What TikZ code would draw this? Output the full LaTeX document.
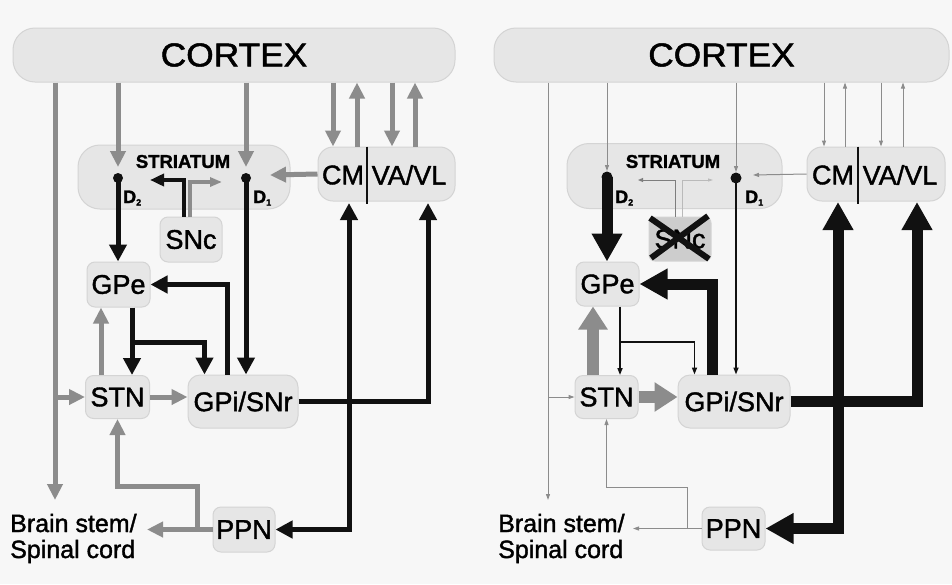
\documentclass[tikz,border=0pt]{standalone}
\usepackage{fontspec}
\setmainfont{Liberation Sans}[FakeBold=1.5]
\usetikzlibrary{arrows.meta,calc}
\definecolor{bg}{HTML}{F7F7F7}
\definecolor{boxfill}{HTML}{E6E6E6}
\definecolor{boxline}{HTML}{D4D4D4}
\definecolor{sncx}{HTML}{CDCDCD}
\definecolor{gar}{HTML}{8C8C8C}
\definecolor{blk}{HTML}{111111}
\newcommand\ctxfont{\addfontfeature{FakeStretch=1.07}\fontsize{33}{33}\selectfont}
\newcommand\labfont{\fontsize{27}{27}\selectfont}
\newcommand\strfont{\bfseries\fontsize{18.5}{18.5}\selectfont}
\newcommand\dfont{\bfseries\fontsize{18}{18}\selectfont}
\newcommand\bsfont{\fontsize{25}{25}\selectfont}
\newcommand\dsub[1]{\raisebox{-2.5pt}{\fontsize{9}{9}\selectfont #1}}
\begin{document}
\begin{tikzpicture}[x=1pt,y=-1pt,
  box/.style={draw=boxline, fill=boxfill, rounded corners=#1, line width=1pt, inner sep=0pt, font=\labfont},
  gA/.style={draw=gar, line width=5pt, -{Triangle[length=16pt,width=15pt]}},
  bA/.style={draw=blk, line width=5pt, -{Triangle[length=17pt,width=17pt]}},
  gAs/.style={draw=gar, line width=3.5pt, -{Triangle[length=12pt,width=9pt]}},
  bAs/.style={draw=blk, line width=4pt, -{Triangle[length=14pt,width=12pt]}},
  tg/.style={draw=gar, line width=1pt, -{Triangle[length=6pt,width=4pt]}},
  tgl/.style={draw=gar!60, line width=0.8pt, -{Triangle[length=5pt,width=3pt]}},
  tb/.style={draw=blk, line width=1.5pt, -{Triangle[length=7pt,width=5pt]}},
  Bk/.style={draw=blk, line width=11pt, -{Triangle[length=28pt,width=29pt]}},
  Gk/.style={draw=gar, line width=12pt, -{Triangle[length=23pt,width=28pt]}},
  txt/.style={inner sep=0pt, font=\labfont}
]
\fill[bg] (0,0) rectangle (952,584);
\useasboundingbox (0,0) rectangle (952,584);

%================ LEFT PANEL ================
\node[box=22pt, minimum width=442pt, minimum height=54pt, font=\ctxfont] (ctxL) at (234,55) {CORTEX};
\node[box=22pt, minimum width=212pt, minimum height=64pt] (strL) at (184,177) {};
\node[inner sep=0pt, font=\strfont] (strtL) at (183,161.5) {STRIATUM};
\node[box=15pt, minimum width=137pt, minimum height=54pt] (thalL) at (386.5,174) {};
\node[txt] (cmL) at (343,175) {CM};
\node[txt] (vaL) at (409,175) {VA/VL};
\draw[blk, line width=2.5pt] (thalL.north -| 367,0) -- (367,204);
\node[box=8pt, minimum width=62pt, minimum height=45pt] (sncL) at (191,239.5) {SNc};
\node[box=8pt, minimum width=63pt, minimum height=45pt] (gpeL) at (118.5,284.5) {GPe};
\node[box=8pt, minimum width=64pt, minimum height=43pt] (stnL) at (117.5,397) {STN};
\node[box=12pt, minimum width=110pt, minimum height=53pt] (gpiL) at (243,401.5) {GPi/SNr};
\node[box=8pt, minimum width=62pt, minimum height=45pt] (ppnL) at (244,529.5) {PPN};
\node[inner sep=0pt, font=\bsfont, anchor=base west] (bs1L) at (10,532) {Brain stem/};
\node[inner sep=0pt, font=\bsfont, anchor=base west] (bs2L) at (10,558) {Spinal cord};
\node[inner sep=0pt, font=\dfont, anchor=base west] (d2tL) at (123,203) {D\dsub{2}};
\node[inner sep=0pt, font=\dfont, anchor=base west] (d1tL) at (253,203) {D\dsub{1}};

\coordinate (d2L) at (118,178);
\coordinate (d1L) at (246,178);
\coordinate (bsL) at (55,500);
\coordinate (t1L) at (333,0); \coordinate (t2L) at (357,0);
\coordinate (t3L) at (392,0); \coordinate (t4L) at (415,0);
\coordinate (thtipL) at (270,175);
\coordinate (cmjL) at (349,203);
\coordinate (vajL) at (428,203);
\coordinate (bstipL) at (147,0);
\coordinate (pvL) at (197,529.5);
\coordinate (phL) at (117.5,486);
\coordinate (brL) at (132,342);

% cortex outputs
\draw[gA] (bsL |- ctxL.south) -- (bsL);
\draw[gA] (d2L |- ctxL.south) -- ([yshift=11pt]d2L);
\draw[gA] (d1L |- ctxL.south) -- ([yshift=11pt]d1L);
\draw[gA] (t1L |- ctxL.south) -- (t1L |- thalL.north);
\draw[gA] (t2L |- thalL.north) -- (t2L |- ctxL.south);
\draw[gA] (t3L |- ctxL.south) -- (t3L |- thalL.north);
\draw[gA] (t4L |- thalL.north) -- (t4L |- ctxL.south);
\draw[gA] (thalL.west) -- (thtipL);
% SNc
\draw[gAs] ([xshift=-1pt]sncL.north) |- (222,182);
\draw[bAs] ([xshift=-7pt]sncL.north) |- (150,180);
% striatum outputs
\draw[bA] (d2L) -- (d2L |- gpeL.north);
\draw[bA] (d1L) -- (d1L |- gpiL.north);
\fill[blk] (d2L) circle[radius=5pt];
\fill[blk] (d1L) circle[radius=5pt];
% GPi -> GPe
\draw[bA] ([xshift=40pt]gpiL.north west) |- (gpeL.east);
% GPe -> STN, GPi
\draw[bA] ([xshift=13.5pt]gpeL.south) -- (brL) -- (brL |- stnL.north);
\draw[bA] (brL) -| ([xshift=17pt]gpiL.north west);
% STN -> GPe
\draw[gA] ([xshift=-16.5pt]stnL.north) -- ([xshift=-16.5pt]stnL.north |- gpeL.south);
% cortex -> STN
\draw[gA] (bsL |- stnL.west) -- (stnL.west);
% STN -> GPi
\draw[gA] (stnL.east) -- (gpiL.west |- stnL.east);
% GPi -> thalamus, PPN
\draw[bA] (gpiL.east) -| (vajL);
\draw[bA] (cmjL |- gpiL.east) -- (cmjL);
\draw[bA] (cmjL |- gpiL.east) |- (ppnL.east);
% PPN outputs
\draw[gA] (ppnL.west) -- (bstipL |- ppnL.west);
\draw[gA] (pvL) |- (phL) -- (stnL.south);

%================ RIGHT PANEL ================
\node[box=22pt, minimum width=455pt, minimum height=54pt, font=\ctxfont] (ctxR) at (721.5,55) {CORTEX};
\node[box=22pt, minimum width=215pt, minimum height=65pt] (strR) at (674.5,176) {};
\node[inner sep=0pt, font=\strfont] (strtR) at (673,161.5) {STRIATUM};
\node[box=15pt, minimum width=138pt, minimum height=54pt] (thalR) at (876,174) {};
\node[txt] (cmR) at (833,175) {CM};
\node[txt] (vaR) at (900,175) {VA/VL};
\draw[blk, line width=2.5pt] (thalR.north -| 858,0) -- (858,204);
\node[box=6pt, fill=sncx, minimum width=62pt, minimum height=44pt] (sncR) at (680,239) {SNc};
\node[box=8pt, minimum width=63pt, minimum height=44pt] (gpeR) at (607.5,284) {GPe};
\node[box=8pt, minimum width=63pt, minimum height=43pt] (stnR) at (606.5,397) {STN};
\node[box=12pt, minimum width=112pt, minimum height=53pt] (gpiR) at (734,401.5) {GPi/SNr};
\node[box=8pt, minimum width=63pt, minimum height=43pt] (ppnR) at (733.5,528.5) {PPN};
\node[inner sep=0pt, font=\bsfont, anchor=base west] (bs1R) at (498,532) {Brain stem/};
\node[inner sep=0pt, font=\bsfont, anchor=base west] (bs2R) at (498,558) {Spinal cord};
\node[inner sep=0pt, font=\dfont, anchor=base west] (d2tR) at (615,203) {D\dsub{2}};
\node[inner sep=0pt, font=\dfont, anchor=base west] (d1tR) at (745,203) {D\dsub{1}};

\coordinate (d2R) at (607,177);
\coordinate (d1R) at (736,178);
\coordinate (bsR) at (548,500);
\coordinate (t1R) at (824,0); \coordinate (t2R) at (845,0);
\coordinate (t3R) at (881,0); \coordinate (t4R) at (903,0);
\coordinate (thtipR) at (753,175);
\coordinate (cmjR) at (838,202);
\coordinate (vajR) at (917,202);
\coordinate (bstipR) at (633,0);
\coordinate (pvR) at (687,528.5);
\coordinate (phR) at (606.5,487);
\coordinate (brR) at (620,342);

% cortex outputs (weak)
\draw[tg] (bsR |- ctxR.south) -- (bsR);
\draw[tg] (d2R |- ctxR.south) -- ([yshift=6pt]d2R);
\draw[tg] (d1R |- ctxR.south) -- ([yshift=6pt]d1R);
\draw[tg] (t1R |- ctxR.south) -- (t1R |- thalR.north);
\draw[tg] (t2R |- thalR.north) -- (t2R |- ctxR.south);
\draw[tg] (t3R |- ctxR.south) -- (t3R |- thalR.north);
\draw[tg] (t4R |- thalR.north) -- (t4R |- ctxR.south);
\draw[tg] (thalR.west) -- (thtipR);
% SNc (lesioned)
\draw[tgl] ([xshift=2pt]sncR.north) |- (713,180);
\draw[draw=gar!90!black, line width=1pt, -{Triangle[length=5pt,width=4pt]}] ([xshift=-5pt]sncR.north) |- (638,180);
\draw[blk, line width=6pt] (650,218) -- (709,259);
\draw[blk, line width=6pt] (708,216) -- (651,258);
% striatum outputs
\draw[Bk] (d2R) -- (d2R |- gpeR.north);
\fill[blk] (d2R) circle[radius=5.5pt];
\draw[tb] (d1R) -- (d1R |- gpiR.north);
\fill[blk] (d1R) circle[radius=5.5pt];
% GPi -> GPe
\draw[Bk] ([xshift=35pt]gpiR.north west) |- (gpeR.east);
% GPe -> STN, GPi
\draw[tb] ([xshift=12.5pt]gpeR.south) -- (brR) -- (brR |- stnR.north);
\draw[tb] (brR) -| ([xshift=17pt]gpiR.north west);
% STN -> GPe
\draw[Gk] ([xshift=-13.5pt]stnR.north) -- ([xshift=-13.5pt]stnR.north |- gpeR.south);
% cortex -> STN
\draw[tg] (bsR |- stnR.west) -- (stnR.west);
% STN -> GPi
\draw[Gk] (stnR.east) -- (gpiR.west |- stnR.east);
% GPi -> thalamus, PPN
\draw[Bk] (gpiR.east) -| (vajR);
\draw[Bk] (cmjR |- gpiR.east) -- (cmjR);
\draw[Bk] (cmjR |- gpiR.east) |- (ppnR.east);
% PPN outputs
\draw[tg] (ppnR.west) -- (bstipR |- ppnR.west);
\draw[tg] (pvR) |- (phR) -- (stnR.south);
\end{tikzpicture}
\end{document}
